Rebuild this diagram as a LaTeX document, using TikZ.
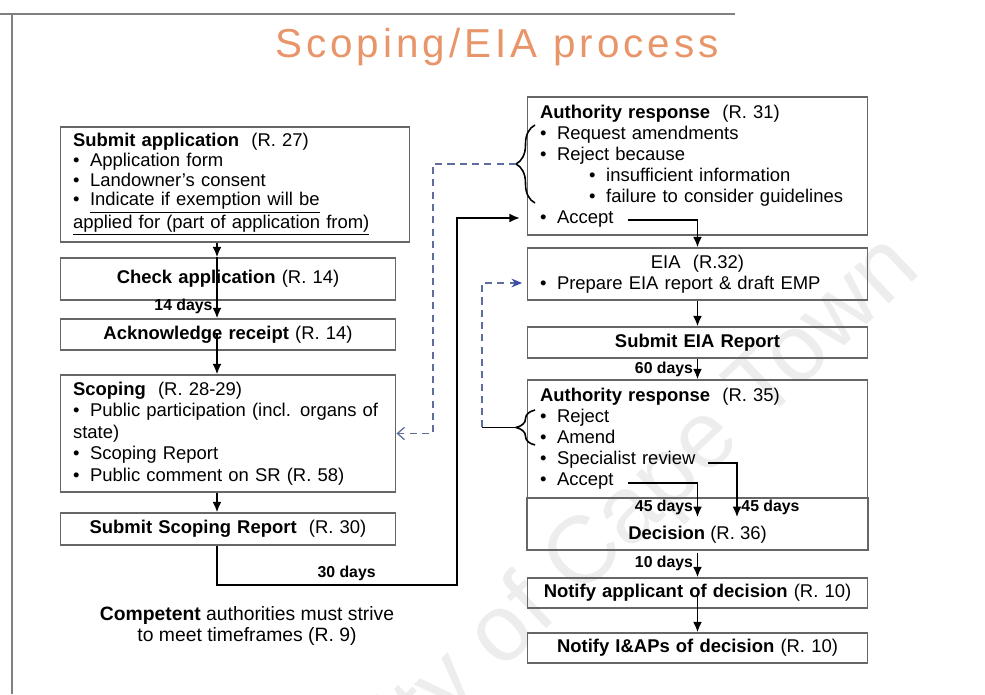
\documentclass[tikz,border=0pt]{standalone}
\usepackage{fontspec}
\setmainfont{Liberation Sans}
\usetikzlibrary{arrows.meta, decorations.pathreplacing}
\definecolor{TitleOrange}{HTML}{E8956A}
\definecolor{LinkBlue}{HTML}{5E6C9E}
\definecolor{TipBlue}{HTML}{3A4DA0}
\newcommand{\itm}{\textbullet\hspace{6pt}}

\begin{document}
\begin{tikzpicture}[x=0.02cm, y=0.02cm,
    box/.style={draw=black!60, line width=0.6pt, rectangle, inner xsep=0.26cm, inner ysep=0pt,
        font=\fontsize{10.5}{12}\selectfont},
    listbox/.style={box, align=left},
    midbox/.style={box, align=center},
    days/.style={font=\bfseries\fontsize{9}{10}\selectfont, inner sep=2pt},
    arr/.style={-{Latex[length=6pt, width=5pt]}, line width=1.1pt},
    dashlink/.style={dash pattern=on 4pt off 3pt, line width=0.7pt, LinkBlue},
    brc/.style={decorate, decoration={brace, amplitude=0.38cm}, line width=0.9pt},
    slideframe/.style={black!50, line width=0.7pt}]
    \useasboundingbox (0,0) rectangle (985,694);

    % Watermark
    \begin{scope}
        \clip (0,0) rectangle (985,694);
        \node[rotate=43.5, text=black!7, font=\fontsize{54}{56}\selectfont] (wmark) at (535,88) {University of Cape Town};
    \end{scope}

    % Slide frame and title
    \draw[slideframe] (0,680) -- (735,680);
    \draw[slideframe] (12,680) -- (12,0);
    \node[anchor=base, text=TitleOrange, font=\fontsize{23}{26}\selectfont\addfontfeature{LetterSpace=10}] (title) at (497,636) {Scoping/EIA process};

    % Left column: application and scoping
    \coordinate (lx) at (217,0);
    \node[listbox, text width=6.48cm, minimum height=2.3cm, font=\fontsize{10.5}{11.2}\selectfont] (apply) at (235,509.5)
        {\textbf{Submit application}\ \ (R. 27)\\
         \itm Application form\\
         \itm Landowner's consent\\
         \itm \underline{Indicate if exemption will be}\\
         \underline{applied for (part of application from)}};
    \node[midbox, text width=6.2cm, minimum height=0.84cm] (check) at (228,415)
        {\textbf{Check application} (R. 14)};
    \node[midbox, text width=6.2cm, minimum height=0.62cm] (ack) at (228,359.5)
        {\textbf{Acknowledge receipt} (R. 14)};
    \node[listbox, text width=6.2cm, minimum height=2.34cm, font=\fontsize{10.5}{12.3}\selectfont] (scope) at (228,260.5)
        {\textbf{Scoping}\ \ (R. 28-29)\\
         \itm Public participation (incl. organs of\\
         state)\\
         \itm Scoping Report\\
         \itm Public comment on SR (R. 58)};
    \node[midbox, text width=6.2cm, minimum height=0.64cm] (subsr) at (228,165)
        {\textbf{Submit Scoping Report}\ \ (R. 30)};

    \node[align=center, font=\fontsize{11}{12.5}\selectfont] (note) at (247,68)
        {\textbf{Competent} authorities must strive\\to meet timeframes (R. 9)};

    % Right column: EIA and decision
    \node[listbox, text width=6.3cm, minimum height=2.76cm] (resp1) at (697.5,528)
        {\textbf{Authority response}\ \ (R. 31)\\
         \itm Request amendments\\
         \itm Reject because\\
         \hspace*{28pt}\itm insufficient information\\
         \hspace*{28pt}\itm failure to consider guidelines\\
         \itm Accept};
    \node[listbox, text width=6.3cm, minimum height=1.04cm] (eia) at (697.5,420)
        {\makebox[\linewidth][c]{EIA\ \ (R.32)}\\
         \itm Prepare EIA report \& draft EMP};
    \node[midbox, text width=6.3cm, minimum height=0.62cm] (subeia) at (697.5,351.5)
        {\textbf{Submit EIA Report}};
    \node[listbox, text width=6.3cm, minimum height=2.36cm] (resp2) at (697.5,255)
        {\textbf{Authority response}\ \ (R. 35)\\
         \itm Reject\\
         \itm Amend\\
         \itm Specialist review\\
         \itm Accept};
    \draw[draw=black!60, line width=0.6pt] (527,196) rectangle (868,144);
    \node[font=\fontsize{10.5}{12}\selectfont, inner sep=5pt] (dec) at (697.5,159)
        {\textbf{Decision} (R. 36)};
    \node[midbox, text width=6.3cm, minimum height=0.6cm] (notapp) at (697.5,101)
        {\textbf{Notify applicant of decision} (R. 10)};
    \node[midbox, text width=6.3cm, minimum height=0.6cm] (notiap) at (697.5,46)
        {\textbf{Notify I\&APs of decision} (R. 10)};

    % Braces on the authority responses
    \draw[brc] (535,491) -- (535,569);
    \draw[brc] (535,249) -- (535,284);
    \coordinate (tip1) at (516,530);
    \coordinate (tip2) at (516,266.5);

    % Points inside the lists
    \coordinate (acc1) at (628,474);
    \coordinate (accin) at (520,476);
    \coordinate (prep) at (522,411);
    \coordinate (acc2) at (628,211);
    \coordinate (spec) at (708,231);
    \coordinate (srv) at (737,0);
    \coordinate (cbend) at (457,109);
    \coordinate (jn) at (482,266.5);

    % Left flow
    \draw[arr] (apply.south -| lx) -- (check.north -| lx);
    \draw[arr] (check.north -| lx) -- node[days, left, pos=.8] {14 days} (ack.north -| lx);
    \draw[arr] (ack.center -| lx) -- (scope.north -| lx);
    \draw[arr] (scope.south -| lx) -- (subsr.north -| lx);
    \draw[arr] (subsr.south -| lx) |- node[days, above, pos=.77] {30 days} (cbend) |- (accin);

    % Right flow
    \draw[arr] (acc1) -| (eia.north);
    \draw[arr] (eia.south) -- (subeia.north);
    \draw[arr] (subeia.south) -- node[days, left] {60 days} (resp2.north);
    \draw[arr] (acc2) -| node[days, left, pos=.86] {45 days} (dec.north);
    \draw[arr] (spec) -| node[days, right, pos=.91] {45 days} (srv |- dec.north);
    \draw[arr] (dec.south) -- node[days, left, pos=.45] {10 days} (notapp.north);
    \draw[arr] (notapp.center) -- (notiap.north);

    % Feedback links
    \draw[dashlink, -{Straight Barb[length=4pt, width=7pt]}] (tip1) -- ++(-83,0) |- (scope.east);
    \draw[line width=0.8pt] (tip2) -- (jn);
    \draw[dashlink, -{Stealth[length=6pt, width=5pt, color=TipBlue]}] (jn) |- (prep);
\end{tikzpicture}
\end{document}
